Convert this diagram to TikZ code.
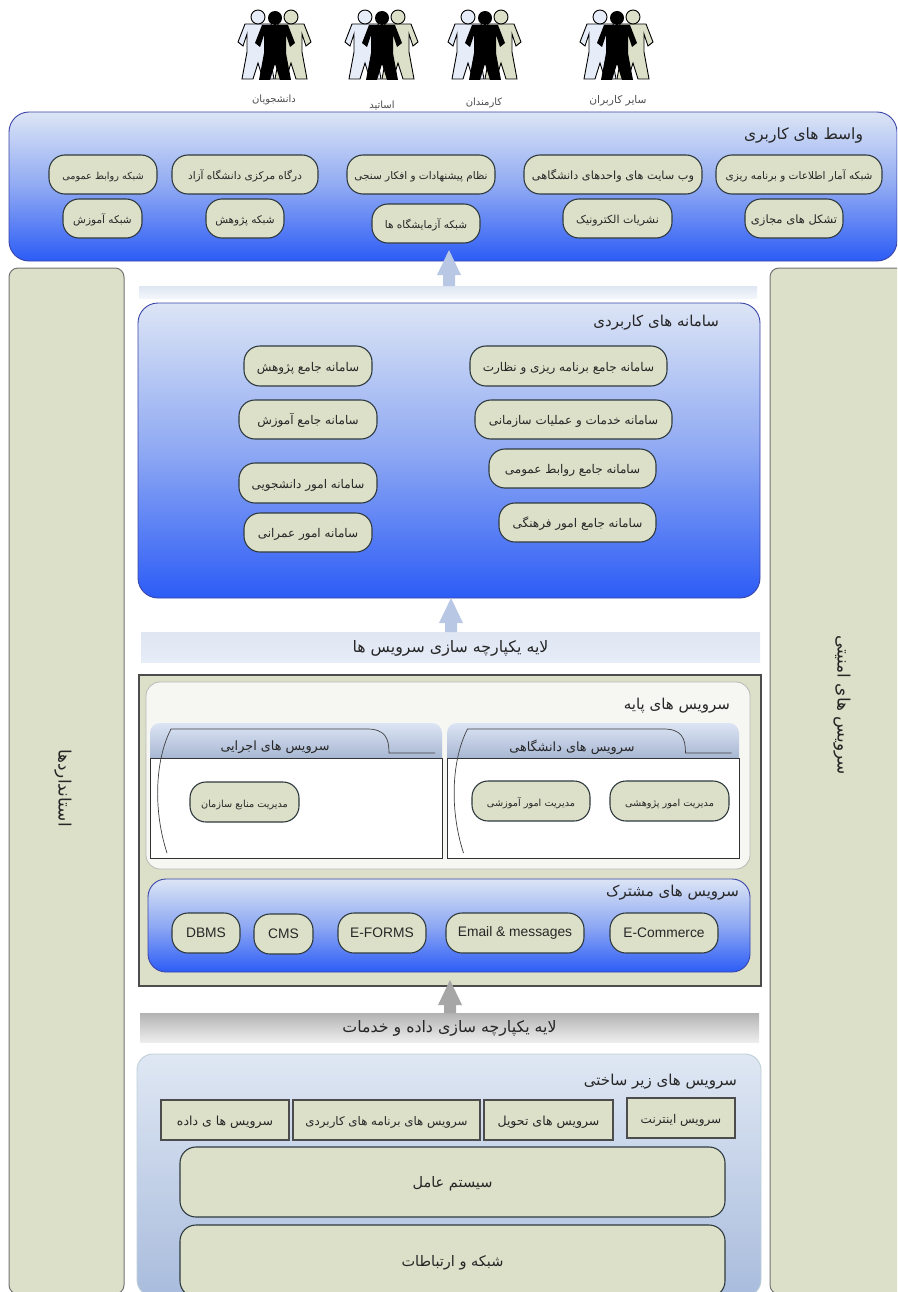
\documentclass[tikz,border=0pt]{standalone}
\usepackage{fontspec}
\setsansfont{Liberation Sans}
\newfontfamily\arabicfont[Script=Arabic]{DejaVu Sans}
\TeXXeTstate=1
\usepackage{tikz}
\usetikzlibrary{calc}
\newcommand{\fa}[1]{{\arabicfont\beginR #1\endR}}
\newcommand{\fs}[1]{\fontsize{#1}{#1}\selectfont}
\def\blockarrow[#1](#2)(#3){\fill[#1] (#3) -- ++(12,25) -- ++(-6,0) -- ($(#3 |- #2)+(6,0)$) -- ($(#3 |- #2)+(-6,0)$) -- ($(#3)+(-6,25)$) -- ++(-6,0) -- cycle;}
\def\bodyshape{(-13,7) -- (13,7) -- (20,25) -- (15,29) -- (11,17) -- (11,35) -- (16,62) -- (5,62) -- (0,46) -- (-5,62) -- (-16,62) -- (-11,35) -- (-11,17) -- (-15,29) -- (-20,25) -- cycle}
\definecolor{sage}{HTML}{DDE0C9}
\definecolor{ink}{HTML}{2E3A3E}
\definecolor{navy}{HTML}{3A44A8}
\definecolor{skytop}{HTML}{DCE5F5}
\definecolor{skymid}{HTML}{8FA9F3}
\definecolor{skybot}{HTML}{2C5CF6}
\definecolor{arrowblue}{HTML}{B8C8E4}
\definecolor{palefig}{HTML}{E6ECF8}
\definecolor{headbot}{HTML}{A8B7D2}
\definecolor{infratop}{HTML}{DFE7F3}
\definecolor{infrabot}{HTML}{A9BCDD}
\tikzset{
	x=1pt, y=-1pt,
	crowd/.pic={
		\begin{scope}[shift={(-17,-1)}]
			\draw[line width=0.9pt, fill=palefig] \bodyshape;
			\draw[line width=0.9pt, fill=palefig] (0,0) circle (7);
		\end{scope}
		\begin{scope}[shift={(16,-1)}]
			\draw[line width=0.9pt, fill=sage] \bodyshape;
			\draw[line width=0.9pt, fill=sage] (0,0) circle (7);
		\end{scope}
		\fill[black] \bodyshape;
		\fill[black] (0,0) circle (7);
	},
	block/.style={inner sep=0pt, outer sep=0pt},
	lowtext/.style={text height=1.05em, text depth=0pt},
	panel/.style={block, rounded corners=20pt, draw=navy, line width=0.9pt, top color=skytop, bottom color=skybot, middle color=skymid},
	roundbox/.style={block, rounded corners=16pt, draw=ink, line width=1.1pt, fill=sage, text=black!85, minimum height=39pt},
	pillbox/.style={roundbox, lowtext, font=\fs{10.5}},
	apppill/.style={pillbox, font=\fs{12}},
	corepill/.style={pillbox, font=\fs{9.7}, minimum height=40pt},
	latinbox/.style={roundbox, font=\sffamily\fs{13.8}, minimum height=40pt},
	squarebox/.style={block, lowtext, draw=black!70, line width=1.3pt, fill=sage, text=black!85, font=\fs{12.5}, minimum height=40pt},
	sidebox/.style={block, rounded corners=9pt, draw=black!55, line width=1pt, fill=sage},
	sidetext/.style={block, rotate=-90, text=black!85, font=\fs{17}},
	bar/.style={block, lowtext, text=black!85, font=\fs{15.8}},
	subtitle/.style={block, text=black!85, font=\fs{12.8}},
	title/.style={block, anchor=east, text height=0.85em, text depth=0pt, text=black!85, font=\fs{15}},
	caption/.style={block, text=black!70, font=\fs{10}},
}
\begin{document}
\begin{tikzpicture}
			\useasboundingbox (0,0) rectangle (897,1292);
			\clip (0,0) rectangle (897,1292);
			
			% users
			\pic at (275,18) {crowd};
			\pic at (382,18) {crowd};
			\pic at (485,18) {crowd};
			\pic at (617,18) {crowd};
			\node[caption] (students) at (274,100) {\fa{دانشجویان}};
			\node[caption] (teachers) at (382,105) {\fa{اساتید}};
			\node[caption] (staff) at (484,103) {\fa{کارمندان}};
			\node[caption, font=\fs{10.6}] (others) at (618,101) {\fa{سایر کاربران}};
			
			% side columns
			\node[sidebox, minimum width=115pt, minimum height=1026pt] (stdbox) at (66.5,781) {};
			\node[sidebox, minimum width=135pt, minimum height=1026pt] (secbox) at (837.5,781) {};
			\node[sidetext] (stdtext) at (63,788) {\fa{استانداردها}};
			\node[sidetext] (sectext) at (842,705) {\fa{سرویس های امنیتی}};
			
			% user interfaces
			\node[panel, minimum width=888pt, minimum height=149pt] (ui) at (453,186.5) {};
			\node[title, font=\fs{15.5}] (uititle) at (863,135) {\fa{واسط های کاربری}};
			\node[pillbox, minimum width=108pt, font=\fs{9.7}] (pubrel) at (103,174.5) {\fa{شبکه روابط عمومی}};
			\node[pillbox, minimum width=79pt] (edunet) at (102.5,218.5) {\fa{شبکه آموزش}};
			\node[pillbox, minimum width=146pt] (portal) at (245,174.5) {\fa{درگاه مرکزی دانشگاه آزاد}};
			\node[pillbox, minimum width=78pt] (resnet) at (245,218.5) {\fa{شبکه پژوهش}};
			\node[pillbox, minimum width=148pt] (ideas) at (421,174.5) {\fa{نظام پیشنهادات و افکار سنجی}};
			\node[pillbox, minimum width=108pt] (labs) at (426,223.5) {\fa{شبکه آزمایشگاه ها}};
			\node[pillbox, minimum width=178pt, font=\fs{11.3}] (sites) at (613,174.5) {\fa{وب سایت های واحدهای دانشگاهی}};
			\node[pillbox, minimum width=109pt, font=\fs{11}] (epub) at (617.5,218.5) {\fa{نشریات الکترونیک}};
			\node[pillbox, minimum width=166pt] (stats) at (799,174.5) {\fa{شبکه آمار اطلاعات و برنامه ریزی}};
			\node[pillbox, minimum width=98pt, font=\fs{11.5}] (social) at (794,218.5) {\fa{تشکل های مجازی}};
			
			% applications
			\node[block, minimum width=618pt, minimum height=12pt, top color=infratop, bottom color=palefig!50] (topbar) at (448,292) {};
			\coordinate (uitip) at (449,250);
			\blockarrow[fill=arrowblue](topbar.north)(uitip);
			\node[panel, minimum width=622pt, minimum height=295pt] (apps) at (449,450.5) {};
			\node[title] (appstitle) at (719,322) {\fa{سامانه های کاربردی}};
			\node[apppill, minimum width=197pt, minimum height=40pt] (planning) at (568.5,366) {\fa{سامانه جامع برنامه ریزی و نظارت}};
			\node[apppill, minimum width=197pt] (services) at (573.5,419.5) {\fa{سامانه خدمات و عملیات سازمانی}};
			\node[apppill, minimum width=167pt] (relations) at (572.5,468.5) {\fa{سامانه جامع روابط عمومی}};
			\node[apppill, minimum width=157pt] (culture) at (577.5,522.5) {\fa{سامانه جامع امور فرهنگی}};
			\node[apppill, minimum width=128pt, minimum height=40pt] (research) at (308,366) {\fa{سامانه جامع پژوهش}};
			\node[apppill, minimum width=138pt] (teaching) at (308,419.5) {\fa{سامانه جامع آموزش}};
			\node[apppill, minimum width=138pt, minimum height=40pt] (studsys) at (308,483) {\fa{سامانه امور دانشجویی}};
			\node[apppill, minimum width=128pt] (civil) at (308,532.5) {\fa{سامانه امور عمرانی}};
			
			% service integration
			\node[bar, minimum width=619pt, minimum height=30pt, top color=infratop, bottom color=palefig] (servicebar) at (450.5,647) {\fa{لایه یکپارچه سازی سرویس ها}};
			\coordinate (appstip) at (451,598);
			\blockarrow[fill=arrowblue](servicebar.north)(appstip);
			
			% core services
			\node[block, draw=black!70, line width=1.4pt, fill=sage, minimum width=622pt, minimum height=311pt] (core) at (450,830.5) {};
			\node[block, rounded corners=14pt, draw=black!28, line width=0.8pt, fill=sage!25, minimum width=604pt, minimum height=187pt] (base) at (448,775.5) {};
			\node[title] (basetitle) at (730,705) {\fa{سرویس های  پایه}};
			
			\path[top color=skytop, bottom color=headbot] [sharp corners] (150,758) [rounded corners=10pt] -- (150,723) -- (442,723) [sharp corners] -- (442,758) -- cycle;
			\node[block, draw=black!80, line width=0.7pt, fill=white, minimum width=292pt, minimum height=100pt] (execbody) at (296,808) {};
			\draw[line width=0.7pt, color=black!75] (167,853) .. controls (153,810) and (155,760) .. (171,729) -- (367,729) .. controls (385,729) and (389,738) .. (389,753) -- (435,753);
			\node[subtitle] (exectitle) at (275,747) {\fa{سرویس های اجرایی}};
			\node[corepill, minimum width=109pt] (resources) at (244.5,802) {\fa{مدیریت منابع سازمان}};
			
			\path[top color=skytop, bottom color=headbot] [sharp corners] (447,758) [rounded corners=10pt] -- (447,723) -- (739,723) [sharp corners] -- (739,758) -- cycle;
			\node[block, draw=black!80, line width=0.7pt, fill=white, minimum width=292pt, minimum height=100pt] (univbody) at (593,808) {};
			\draw[line width=0.7pt, color=black!75] (463.5,853) .. controls (449.5,810) and (451.5,760) .. (467.5,729) -- (663.5,729) .. controls (681.5,729) and (685.5,738) .. (685.5,753) -- (731.5,753);
			\node[subtitle] (univtitle) at (572,747) {\fa{سرویس های دانشگاهی}};
			\node[corepill, minimum width=118pt] (edumgmt) at (531,801) {\fa{مدیریت امور آموزشی}};
			\node[corepill, minimum width=119pt] (resmgmt) at (669.5,801) {\fa{مدیریت امور پژوهشی}};
			
			\node[panel, rounded corners=18pt, minimum width=602pt, minimum height=93pt] (shared) at (449,925.5) {};
			\node[title] (sharedtitle) at (739,892) {\fa{سرویس های  مشترک}};
			\node[latinbox, minimum width=68pt] (dbms) at (206,933) {DBMS};
			\node[latinbox, minimum width=59pt] (cms) at (283.5,934) {CMS};
			\node[latinbox, minimum width=88pt] (eforms) at (382,933) {E-FORMS};
			\node[latinbox, minimum width=138pt] (email) at (515,933) {Email \& messages};
			\node[latinbox, minimum width=108pt] (ecommerce) at (664,933) {E-Commerce};
			
			% data integration
			\node[bar, minimum width=619pt, minimum height=29pt, top color=black!30, bottom color=black!7] (databar) at (449.5,1027.5) {\fa{لایه یکپارچه سازی داده و خدمات}};
			\coordinate (coretip) at (450,980);
			\blockarrow[fill=black!35](databar.north)(coretip);
			
			% infrastructure
			\node[block, rounded corners=16pt, draw=cyan!45!black!30, line width=0.9pt, top color=infratop, bottom color=infrabot, minimum width=624pt, minimum height=242pt] (infra) at (449,1175) {};
			\node[title] (infratitle) at (737,1081) {\fa{سرویس های زیر ساختی}};
			\node[squarebox, minimum width=128pt] (datasrv) at (225,1120) {\fa{سرویس ها ی داده}};
			\node[squarebox, minimum width=187pt, font=\fs{11.8}] (appsrv) at (386.5,1120) {\fa{سرویس های برنامه های کاربردی}};
			\node[squarebox, minimum width=129pt] (delivery) at (548.5,1120) {\fa{سرویس های تحویل}};
			\node[squarebox, minimum width=108pt, font=\fs{12}] (internet) at (681,1118) {\fa{سرویس اینترنت}};
			\node[pillbox, minimum width=545pt, minimum height=70pt, font=\fs{14.5}] (os) at (452.5,1182) {\fa{سیستم  عامل}};
			\node[pillbox, minimum width=545pt, minimum height=72pt, font=\fs{14.5}] (network) at (452.5,1261) {\fa{شبکه و ارتباطات}};
		\end{tikzpicture}
\end{document}
